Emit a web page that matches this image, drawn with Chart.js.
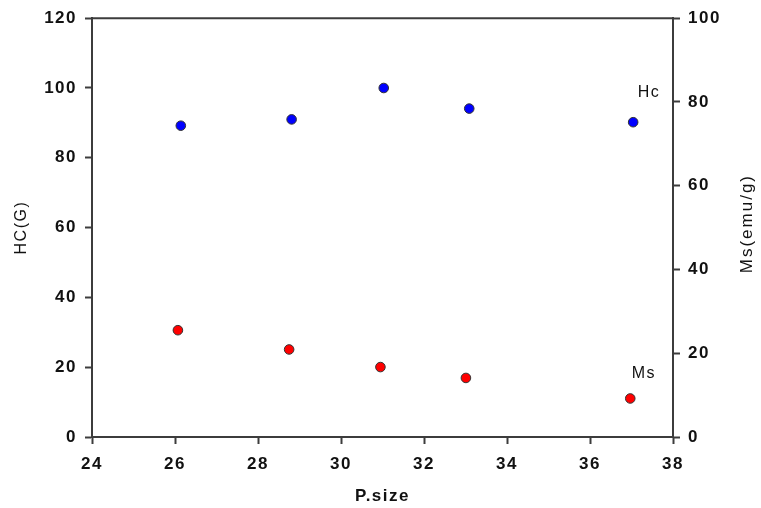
<!DOCTYPE html>
<html>
<head>
<meta charset="utf-8">
<script src="https://cdn.jsdelivr.net/npm/chart.js@4.4.1/dist/chart.umd.min.js"></script>
<style>
  html, body { margin: 0; padding: 0; background: #fff; }
  #wrap { width: 761px; height: 508px; position: relative; }
</style>
</head>
<body>
<div id="wrap"><canvas id="chart"></canvas></div>
<script>
// particle size vs coercivity / saturation magnetisation
var sizeHc = [26.14, 28.81, 31.03, 33.09, 37.04]
var hcValues = [89.2, 91, 100, 94.1, 90.2]
var sizeMs = [26.07, 28.75, 30.95, 33.01, 36.97]
var msValues = [25.5, 20.9, 16.7, 14.1, 9.2]

var xTicks = [24, 26, 28, 30, 32, 34, 36, 38]
var hcTicks = [0, 20, 40, 60, 80, 100, 120]
var msTicks = [0, 20, 40, 60, 80, 100]

// series name labels next to the last points (x, y on left scale)
var seriesNames = ['Hc', 'Ms']
var nameX = [37.42, 37.3]
var nameY = [98.8, 18.2]

var axisColor = '#3c3c3c'
var textColor = '#111'

function toPoints(xs, ys) {
  return xs.map((x, i) => ({x: x, y: ys[i]}))
}

var extras = {
  id: 'extras',
  beforeDraw: chart => {
    chart.ctx.letterSpacing = '1.5px'
  },
  afterDraw: chart => {
    var ctx = chart.ctx
    var area = chart.chartArea
    var xs = chart.scales.x
    var ys = chart.scales.y
    ctx.save()
    // top frame line
    ctx.strokeStyle = axisColor
    ctx.lineWidth = 2
    ctx.beginPath()
    ctx.moveTo(area.left - 1, area.top)
    ctx.lineTo(area.right + 1, area.top)
    ctx.stroke()

    ctx.fillStyle = textColor
    ctx.textAlign = 'center'
    ctx.textBaseline = 'middle'
    ctx.letterSpacing = '1.5px'
    ctx.font = '16px "Liberation Sans", Arial, sans-serif'
    seriesNames.forEach((name, i) => {
      ctx.fillText(name, xs.getPixelForValue(nameX[i]), ys.getPixelForValue(nameY[i]))
    })

    // right axis title, reads bottom to top
    ctx.translate(747, (area.top + area.bottom) / 2 - 4)
    ctx.rotate(-Math.PI / 2)
    ctx.letterSpacing = '2px'
    ctx.font = '17px "Liberation Sans", Arial, sans-serif'
    ctx.fillText('Ms(emu/g)', 0, 0)
    ctx.restore()
  }
}

var tickFont = {family: '"Liberation Sans", Arial, sans-serif', size: 17, weight: 'bold'}

new Chart(document.getElementById('chart'), {
  type: 'scatter',
  plugins: [extras],
  data: {
    datasets: [
      {
        label: 'Hc',
        data: toPoints(sizeHc, hcValues),
        yAxisID: 'y',
        pointRadius: 4.8,
        pointBackgroundColor: '#0000ff',
        pointBorderColor: '#333',
        pointBorderWidth: 1
      },
      {
        label: 'Ms',
        data: toPoints(sizeMs, msValues),
        yAxisID: 'y1',
        pointRadius: 4.8,
        pointBackgroundColor: '#ff0000',
        pointBorderColor: '#333',
        pointBorderWidth: 1
      }
    ]
  },
  options: {
    responsive: true,
    maintainAspectRatio: false,
    animation: false,
    layout: {
      padding: {top: 18, left: 0, right: 0, bottom: 0}
    },
    plugins: {
      legend: {display: false},
      tooltip: {enabled: false}
    },
    scales: {
      x: {
        type: 'linear',
        min: 24,
        max: 38,
        afterBuildTicks: s => { s.ticks = xTicks.map(v => ({value: v})) },
        afterFit: s => { s.height = 71 },
        grid: {drawOnChartArea: false, drawTicks: true, tickLength: 7, tickColor: axisColor, tickWidth: 2},
        border: {display: true, color: axisColor, width: 2},
        ticks: {color: textColor, font: tickFont, padding: 10, maxRotation: 0},
        title: {
          display: true,
          text: 'P.size',
          color: textColor,
          font: {family: '"Liberation Sans", Arial, sans-serif', size: 17, weight: 'bold'},
          padding: {top: 0, bottom: 1}
        }
      },
      y: {
        type: 'linear',
        position: 'left',
        min: 0,
        max: 120,
        afterBuildTicks: s => { s.ticks = hcTicks.map(v => ({value: v})) },
        afterFit: s => { s.width = 92 },
        grid: {drawOnChartArea: false, drawTicks: true, tickLength: 7, tickColor: axisColor, tickWidth: 2},
        border: {display: true, color: axisColor, width: 2},
        ticks: {color: textColor, font: tickFont, padding: 8},
        title: {
          display: true,
          text: 'HC(G)',
          color: textColor,
          font: {family: '"Liberation Sans", Arial, sans-serif', size: 16},
          padding: {top: 12, bottom: 0}
        }
      },
      y1: {
        type: 'linear',
        position: 'right',
        min: 0,
        max: 100,
        afterBuildTicks: s => { s.ticks = msTicks.map(v => ({value: v})) },
        afterFit: s => { s.width = 88 },
        grid: {drawOnChartArea: false, drawTicks: true, tickLength: 7, tickColor: axisColor, tickWidth: 2},
        border: {display: true, color: axisColor, width: 2},
        ticks: {color: textColor, font: tickFont, padding: 8}
      }
    }
  }
})
</script>
</body>
</html>
